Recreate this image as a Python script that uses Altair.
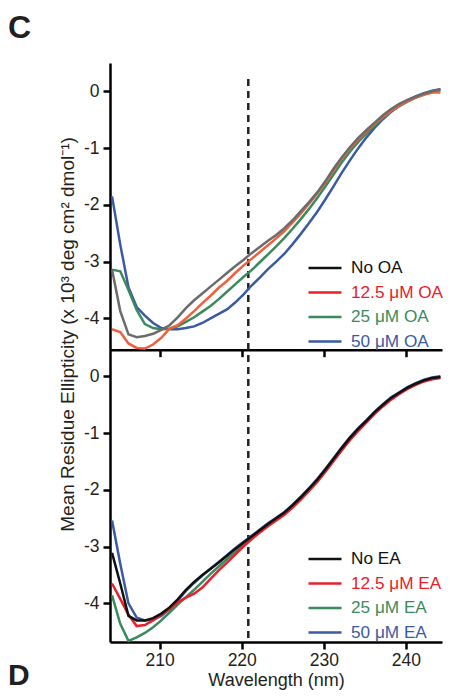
import altair as alt
import pandas as pd

FONT = "Liberation Sans"
INK = "#231f20"

# wavelength grid (nm) as read against the axis ticks of the figure
wavelength = [round(204.2 + i, 1) for i in range(41)]

# ---- Panel C (OA) ----
top_names = ["No OA", "12.5 μM OA", "25 μM OA", "50 μM OA"]
top_no_oa = [-3.14, -3.87, -4.28, -4.33, -4.31, -4.27, -4.20, -4.12, -3.98, -3.82,
             -3.68, -3.56, -3.44, -3.32, -3.20, -3.08, -2.97, -2.85, -2.74, -2.63,
             -2.53, -2.41, -2.27, -2.11, -1.95, -1.78, -1.58, -1.36, -1.16, -0.98,
             -0.82, -0.68, -0.55, -0.42, -0.31, -0.22, -0.15, -0.09, -0.04, 0.00, 0.04]
top_12_5 = [-4.19, -4.24, -4.44, -4.52, -4.53, -4.46, -4.34, -4.18, -4.12, -4.00,
            -3.87, -3.73, -3.60, -3.46, -3.34, -3.20, -3.07, -2.95, -2.83, -2.71,
            -2.59, -2.46, -2.31, -2.15, -1.98, -1.80, -1.60, -1.39, -1.18, -1.00,
            -0.84, -0.70, -0.57, -0.45, -0.34, -0.25, -0.17, -0.11, -0.06, -0.02, -0.02]
top_25 = [-3.14, -3.17, -3.50, -3.85, -4.10, -4.17, -4.19, -4.18, -4.14, -4.06,
          -3.98, -3.88, -3.78, -3.66, -3.53, -3.40, -3.27, -3.15, -3.01, -2.87,
          -2.73, -2.58, -2.42, -2.25, -2.07, -1.88, -1.67, -1.46, -1.25, -1.06,
          -0.89, -0.74, -0.60, -0.47, -0.36, -0.26, -0.18, -0.11, -0.05, -0.01, 0.02]
top_50 = [-1.85, -2.70, -3.45, -3.80, -3.95, -4.08, -4.17, -4.19, -4.19, -4.17,
          -4.14, -4.08, -4.00, -3.92, -3.84, -3.72, -3.58, -3.42, -3.28, -3.13,
          -3.00, -2.86, -2.69, -2.51, -2.32, -2.12, -1.90, -1.67, -1.43, -1.21,
          -1.00, -0.81, -0.64, -0.49, -0.36, -0.25, -0.16, -0.09, -0.03, 0.01, 0.04]
top_line_colors = ["#6b6b6b", "#f0603f", "#3b8a5d", "#3a5aa3"]
top_legend_colors = ["#111111", "#e8202a", "#3b8a5d", "#3a5aa3"]

# ---- Panel D (EA) ----
bot_names = ["No EA", "12.5 μM EA", "25 μM EA", "50 μM EA"]
bot_no_ea = [-3.11, -3.65, -4.22, -4.30, -4.30, -4.26, -4.18, -4.07, -3.93, -3.76,
             -3.62, -3.50, -3.39, -3.28, -3.16, -3.04, -2.93, -2.82, -2.71, -2.60,
             -2.50, -2.40, -2.27, -2.13, -1.98, -1.82, -1.64, -1.45, -1.26, -1.08,
             -0.92, -0.78, -0.63, -0.50, -0.38, -0.29, -0.20, -0.13, -0.07, -0.03, -0.01]
bot_12_5 = [-3.65, -3.92, -4.20, -4.40, -4.38, -4.30, -4.20, -4.10, -3.98, -3.90,
            -3.83, -3.72, -3.57, -3.42, -3.28, -3.14, -3.00, -2.87, -2.75, -2.64,
            -2.54, -2.44, -2.31, -2.17, -2.02, -1.86, -1.68, -1.49, -1.30, -1.12,
            -0.96, -0.81, -0.66, -0.53, -0.41, -0.31, -0.22, -0.15, -0.09, -0.05, -0.03]
bot_25 = [-3.86, -4.36, -4.66, -4.60, -4.52, -4.42, -4.30, -4.16, -4.02, -3.89,
          -3.76, -3.62, -3.48, -3.35, -3.22, -3.09, -2.96, -2.84, -2.73, -2.62,
          -2.52, -2.42, -2.29, -2.15, -2.00, -1.84, -1.66, -1.47, -1.28, -1.10,
          -0.94, -0.79, -0.64, -0.51, -0.39, -0.30, -0.21, -0.14, -0.08, -0.04, -0.02]
bot_50 = [-2.54, -3.30, -4.00, -4.25, -4.30, -4.29, -4.22, -4.10, -3.95, -3.78,
          -3.64, -3.51, -3.39, -3.27, -3.15, -3.03, -2.92, -2.81, -2.70, -2.59,
          -2.49, -2.39, -2.26, -2.12, -1.97, -1.81, -1.63, -1.44, -1.25, -1.07,
          -0.91, -0.77, -0.62, -0.49, -0.37, -0.28, -0.19, -0.12, -0.06, -0.02, 0.00]
bot_line_colors = ["#111111", "#e8202a", "#3b8a5d", "#3a5aa3"]
bot_legend_colors = ["#111111", "#e8202a", "#3b8a5d", "#3a5aa3"]

panel_labels = ["C", "D"]
dash_wavelength = 220.8
top_dash_start = 0.22          # value (panel C units) where the dashed line starts
x_domain = [203.95, 244.4]
top_y_domain = [-4.55, 0.5]     # panel C
bot_y_domain = [-4.68, 0.47]    # panel D
y_ticks = [0, -1, -2, -3, -4]
x_ticks = [210, 220, 230, 240]

# panel C is stacked directly above panel D on one shared vertical scale
OFF = bot_y_domain[1] - top_y_domain[0]
Y_DOMAIN = [bot_y_domain[0], top_y_domain[1] + OFF]
BOUNDARY_FRAC = (bot_y_domain[1] - bot_y_domain[0]) / (Y_DOMAIN[1] - Y_DOMAIN[0])

TICK_FS = 17.5
TEXT_FS = 18
LEGEND_FS = 17.2


def long_df(names, series, draw_order, shift, panel):
    rows = []
    for i in draw_order:
        for w, v in zip(wavelength, series[i]):
            rows.append({"wavelength": w, "y": v + shift, "series": names[i],
                         "panel": panel})
    return pd.DataFrame(rows)


top_df = long_df(top_names, [top_no_oa, top_12_5, top_25, top_50], [3, 2, 1, 0], OFF, "C")
bot_df = long_df(bot_names, [bot_no_ea, bot_12_5, bot_25, bot_50], [3, 2, 1, 0], 0.0, "D")
all_df = pd.concat([top_df, bot_df], ignore_index=True)


def legend_expr(names, colors):
    n = "[" + ",".join("'%s'" % s for s in names) + "]"
    c = "[" + ",".join("'%s'" % s for s in colors) + "]"
    return "%s[indexof(%s, datum.value)]" % (c, n)


xscale = alt.Scale(domain=x_domain, nice=False, zero=False)
yscale = alt.Scale(domain=Y_DOMAIN, nice=False, zero=False)

axis_common = dict(grid=False, domainColor="black", domainWidth=2.5,
                   tickColor="black", tickWidth=2.5, tickSize=7)

x_axis_bottom = alt.Axis(
    orient="bottom", values=x_ticks, labelFont=FONT, labelFontSize=TICK_FS,
    labelColor=INK, labelPadding=2, title="Wavelength (nm)", titleFont=FONT,
    titleFontSize=TEXT_FS, titleFontWeight="normal", titleColor=INK,
    titlePadding=3, **axis_common)
x_axis_middle = alt.Axis(
    orient="bottom", values=x_ticks, labels=False, title=None,
    offset=alt.ExprRef("-height*%f" % BOUNDARY_FRAC), **axis_common)

y_values = [t + OFF for t in y_ticks] + y_ticks
y_axis = alt.Axis(
    orient="left", values=y_values,
    labelExpr="toString(round(datum.value > %f ? datum.value - %f : datum.value))"
              % (bot_y_domain[1] + 0.01, OFF),
    labelFont=FONT, labelFontSize=TICK_FS, labelColor=INK, labelPadding=4,
    title="Mean Residue Ellipticity (x 10³ deg cm² dmol⁻¹)",
    titleFont=FONT, titleFontSize=19, titleFontWeight="normal", titleColor=INK,
    titleX=-43, titleY=alt.ExprRef("height*0.468"), titleAngle=270,
    titleAlign="center", titleBaseline="middle", **axis_common)


def legend_layer(df, names, colors, lx, ly):
    expr = legend_expr(names, colors)
    return alt.Chart(df).mark_line(strokeWidth=0.5).encode(
        x=alt.X("wavelength:Q", scale=xscale, axis=None),
        y=alt.Y("y:Q", scale=yscale, axis=None),
        color=alt.Color(
            "series:N", scale=alt.Scale(domain=names, range=colors),
            legend=alt.Legend(
                title=None, orient="none", legendX=lx, legendY=ly,
                symbolType="stroke", symbolSize=1089, symbolStrokeWidth=2.5,
                symbolOpacity=1, labelFont=FONT, labelFontSize=LEGEND_FS,
                labelOffset=8, rowPadding=6.5, clipHeight=18,
                labelColor={"expr": expr},
            ),
        ),
        order=alt.Order("wavelength:Q"),
    )


rule_df = pd.DataFrame({
    "wavelength": [dash_wavelength],
    "y1": [top_dash_start + OFF],
    "y2": [bot_y_domain[0]],
})
rule = alt.Chart(rule_df).mark_rule(
    color=INK, strokeWidth=2.5, strokeDash=[7, 5]
).encode(
    x=alt.X("wavelength:Q", scale=xscale, axis=x_axis_middle),
    y=alt.Y("y1:Q", scale=yscale, axis=None),
    y2="y2:Q",
)

top_legend = legend_layer(top_df, top_names, top_legend_colors, 197, 196)
bot_legend = legend_layer(bot_df, bot_names, bot_legend_colors, 197, 487)

lines = alt.Chart(all_df).mark_line(strokeWidth=2.5).encode(
    x=alt.X("wavelength:Q", scale=xscale, axis=x_axis_bottom),
    y=alt.Y("y:Q", scale=yscale, axis=y_axis),
    color=alt.Color("series:N",
                    scale=alt.Scale(domain=top_names + bot_names,
                                    range=top_line_colors + bot_line_colors),
                    legend=None),
    detail="panel:N",
    order=alt.Order("wavelength:Q"),
)

label_d = alt.Chart(pd.DataFrame({"label": [panel_labels[1]]})).mark_text(
    x=-102, y=alt.ExprRef("height + 19"), align="left", baseline="top",
    font=FONT, fontSize=30, fontWeight="bold", color=INK,
).encode(text="label:N")

chart = alt.layer(rule, top_legend, bot_legend, lines, label_d).resolve_scale(
    color="independent"
).resolve_axis(x="independent", y="independent").properties(
    width=437, height=683,
    autosize=alt.AutoSizeParams(type="fit", contains="padding"),
    padding={"left": 0, "top": 4, "right": 0, "bottom": 0},
    title=alt.TitleParams(
        panel_labels[0], anchor="start", frame="group", dx=-102, offset=18,
        fontSize=32, font=FONT, fontWeight="bold", color=INK),
).configure_view(stroke=None)

chart.save("out.html", embed_options={"renderer": "svg", "actions": False})
